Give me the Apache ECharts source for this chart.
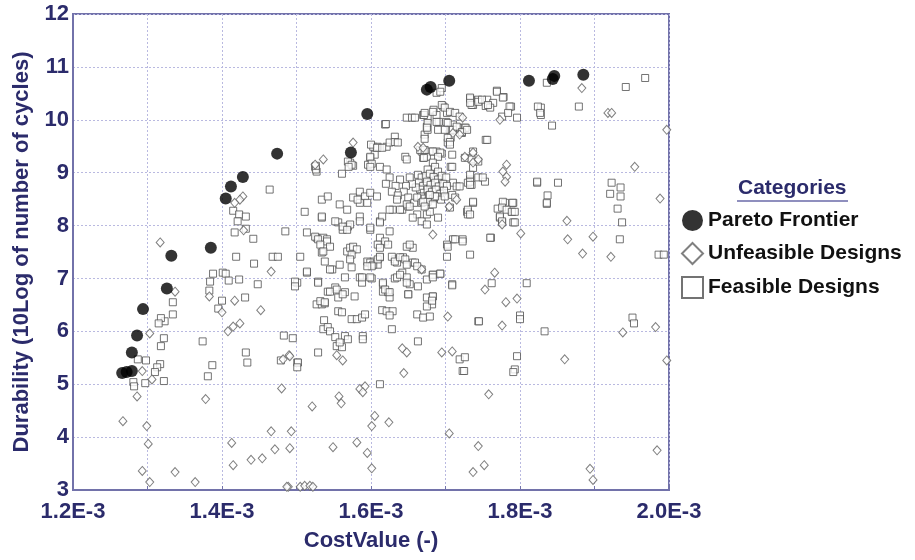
<!DOCTYPE html>
<html>
<head>
<meta charset="utf-8">
<script src="https://cdn.jsdelivr.net/npm/echarts@6/dist/echarts.min.js"></script>
<style>html,body{margin:0;padding:0;background:#fff}#c{width:915px;height:560px}</style>
</head>
<body>
<div id="c"></div>
<script>
// Cost values in units of 1E-3, durability in 10Log(cycles)
const categories = ['Pareto Frontier', 'Unfeasible Designs', 'Feasible Designs'];
const xTickValues = [1.2, 1.4, 1.6, 1.8, 2.0];
const yTickValues = [3, 4, 5, 6, 7, 8, 9, 10, 11, 12];

const paretoPoints = [
[1.266,5.21],[1.272,5.23],[1.279,5.25],[1.279,5.60],[1.286,5.92],[1.294,6.42],[1.326,6.81],[1.332,7.43],
[1.385,7.58],[1.405,8.51],[1.412,8.74],[1.428,8.92],[1.474,9.36],[1.573,9.38],[1.595,10.11],[1.675,10.57],
[1.680,10.62],[1.705,10.74],[1.812,10.74],[1.844,10.77],[1.846,10.83],[1.885,10.85]
];

const unfeasiblePoints = [
[1.428,8.55],[1.424,8.49],[1.417,8.43],[1.429,7.91],[1.317,7.68],[1.466,7.13],[1.383,6.66],[1.417,6.58],
[1.400,6.36],[1.452,6.40],[1.337,6.75],[1.303,5.96],[1.408,6.00],[1.415,6.09],[1.424,6.15],[1.293,5.25],
[1.306,5.09],[1.286,4.77],[1.267,4.30],[1.299,4.21],[1.301,3.87],[1.293,3.36],[1.303,3.15],[1.337,3.34],
[1.364,3.15],[1.378,4.72],[1.490,5.55],[1.480,4.92],[1.413,3.89],[1.415,3.47],[1.439,3.57],[1.454,3.60],
[1.466,4.11],[1.493,4.11],[1.471,3.77],[1.491,3.79],[1.489,3.06],[1.710,9.75],[1.719,9.72],[1.576,9.57],
[1.536,9.25],[1.663,9.49],[1.670,9.47],[1.726,9.30],[1.737,9.38],[1.737,9.19],[1.744,9.25],[1.705,8.36],
[1.525,9.15],[1.703,6.28],[1.482,5.47],[1.491,5.53],[1.554,5.55],[1.562,5.45],[1.642,5.68],[1.648,5.60],
[1.695,5.60],[1.709,5.62],[1.644,5.21],[1.585,4.91],[1.592,4.96],[1.589,4.85],[1.557,4.77],[1.560,4.64],
[1.521,4.58],[1.605,4.40],[1.601,4.21],[1.624,4.28],[1.549,3.81],[1.581,3.90],[1.595,3.70],[1.601,3.41],
[1.705,4.07],[1.737,3.34],[1.744,3.83],[1.487,3.06],[1.505,3.06],[1.511,3.08],[1.518,3.08],[1.522,3.06],
[1.883,10.60],[1.773,10.00],[1.918,10.13],[1.923,10.13],[1.997,9.81],[1.723,10.04],[1.782,9.15],[1.777,9.02],
[1.782,8.92],[1.780,8.83],[1.954,9.11],[1.988,8.51],[1.863,8.09],[1.864,7.74],[1.898,7.79],[1.801,7.85],
[1.884,7.47],[1.922,7.41],[1.766,7.11],[1.753,6.79],[1.781,6.55],[1.796,6.62],[1.776,6.11],[1.938,5.98],
[1.982,6.08],[1.860,5.47],[1.997,5.45],[1.758,4.81],[1.752,3.47],[1.894,3.40],[1.898,3.19],[1.984,3.75],
[1.715,8.49],[1.683,7.83],[1.776,8.02],[1.668,7.17]
];

const feasiblePoints = [
[1.464,8.68],[1.415,8.28],[1.423,8.21],[1.432,8.17],[1.421,8.08],[1.417,7.87],[1.432,7.94],[1.442,7.75],[1.485,7.89],
[1.419,7.41],[1.443,7.28],[1.468,7.41],[1.475,7.41],[1.388,7.09],[1.401,7.11],[1.405,7.09],[1.384,6.94],[1.409,6.96],
[1.423,6.98],[1.448,6.89],[1.501,6.92],[1.383,6.77],[1.400,6.58],[1.395,6.43],[1.431,6.64],[1.334,6.55],[1.334,6.32],
[1.323,6.19],[1.318,6.25],[1.315,6.15],[1.322,5.87],[1.318,5.72],[1.374,5.81],[1.298,5.45],[1.287,5.47],[1.317,5.38],
[1.313,5.32],[1.310,5.23],[1.322,5.06],[1.281,5.04],[1.282,4.96],[1.297,5.02],[1.387,5.36],[1.381,5.15],[1.432,5.60],
[1.434,5.41],[1.483,5.92],[1.495,5.87],[1.479,5.45],[1.501,5.41],
[1.688,10.51],[1.695,10.60],[1.734,10.38],[1.737,10.28],[1.648,10.04],[1.655,10.04],[1.619,9.91],[1.670,10.09],
[1.676,10.04],[1.684,10.19],[1.688,10.09],[1.697,10.25],[1.702,10.13],[1.675,9.87],[1.691,9.96],[1.701,9.96],
[1.710,9.91],[1.719,9.85],[1.726,9.85],[1.672,9.72],[1.672,9.64],[1.703,9.57],[1.707,9.66],[1.632,9.68],
[1.603,9.49],[1.609,9.49],[1.621,9.49],[1.625,9.57],[1.632,9.58],[1.636,9.57],[1.605,9.34],[1.599,9.28],
[1.572,9.19],[1.576,9.13],[1.679,9.40],[1.688,9.40],[1.695,9.36],[1.646,9.30],[1.648,9.25],[1.670,9.28],
[1.675,9.30],[1.709,9.34],[1.707,9.11],[1.525,9.11],[1.527,9.02],[1.561,8.98],[1.596,9.15],[1.612,9.11],
[1.534,8.49],[1.542,8.55],[1.511,8.26],[1.534,8.15],[1.558,8.40],[1.568,8.30],[1.556,8.06],[1.569,7.98],
[1.562,7.92],[1.585,8.64],[1.592,8.55],[1.599,8.62],[1.585,8.43],[1.595,8.43],[1.608,8.55],[1.514,7.87],
[1.527,7.77],[1.536,7.77],[1.541,7.74],[1.585,8.17],[1.599,7.92],[1.612,8.08],[1.625,7.89],[1.629,8.30],
[1.642,8.30],[1.650,8.36],[1.710,7.74],[1.723,7.74],[1.730,8.26],[1.733,8.87],[1.735,8.77],[1.737,9.09],
[1.505,7.41],[1.534,7.49],[1.538,7.32],[1.548,7.17],[1.558,7.26],[1.574,7.21],[1.568,7.51],[1.576,7.55],
[1.596,7.30],[1.603,7.32],[1.609,7.26],[1.612,7.40],[1.632,7.36],[1.635,7.30],[1.643,7.40],[1.656,7.30],
[1.668,7.17],[1.514,7.11],[1.498,6.94],[1.498,6.85],[1.529,6.94],[1.565,7.02],[1.585,7.02],[1.588,6.92],
[1.601,7.00],[1.616,6.89],[1.632,7.00],[1.642,7.11],[1.648,7.02],[1.652,6.89],[1.663,6.85],[1.683,7.07],
[1.693,7.09],[1.709,6.89],[1.542,6.75],[1.552,6.83],[1.565,6.74],[1.578,6.66],[1.556,6.64],[1.616,6.75],
[1.623,6.74],[1.625,6.64],[1.650,6.70],[1.675,6.64],[1.683,6.66],[1.682,6.51],[1.675,6.47],[1.527,6.51],
[1.534,6.51],[1.538,6.53],[1.556,6.38],[1.561,6.36],[1.574,6.23],[1.581,6.23],[1.588,6.26],[1.592,6.32],
[1.615,6.40],[1.621,6.38],[1.629,6.38],[1.625,6.30],[1.662,6.32],[1.670,6.26],[1.679,6.28],[1.744,6.19],
[1.537,6.21],[1.536,6.04],[1.542,6.08],[1.545,6.00],[1.628,6.04],[1.552,5.89],[1.565,5.91],[1.569,5.85],
[1.554,5.72],[1.561,5.70],[1.558,5.79],[1.589,5.91],[1.589,5.85],[1.529,5.60],[1.502,5.41],[1.501,5.32],
[1.663,5.81],[1.719,5.47],[1.726,5.51],[1.723,5.25],[1.612,5.00],
[1.836,10.70],[1.942,10.62],[1.968,10.79],[1.769,10.55],[1.778,10.43],[1.788,10.25],[1.796,10.04],[1.733,10.40],
[1.735,10.28],[1.744,10.38],[1.756,10.38],[1.754,10.26],[1.764,10.32],[1.760,10.23],[1.828,10.23],[1.828,10.09],
[1.879,10.25],[1.843,9.89],[1.727,9.85],[1.722,9.75],[1.754,9.62],[1.733,8.96],[1.730,8.81],[1.744,8.91],
[1.753,8.83],[1.750,8.91],[1.823,8.81],[1.851,8.81],[1.837,8.57],[1.836,8.41],[1.923,8.81],[1.935,8.72],
[1.921,8.60],[1.935,8.55],[1.931,8.32],[1.937,8.06],[1.934,7.74],[1.737,8.43],[1.729,8.26],[1.730,8.21],
[1.770,8.32],[1.780,8.43],[1.789,8.26],[1.791,8.43],[1.773,8.15],[1.791,8.06],[1.776,8.06],[1.761,7.77],
[1.733,7.45],[1.986,7.45],[1.993,7.45],[1.762,6.91],[1.809,6.91],[1.745,6.19],[1.800,6.30],[1.800,6.23],
[1.833,6.00],[1.951,6.26],[1.953,6.15],[1.725,5.25],[1.796,5.53],[1.793,5.28],[1.791,5.23],
[1.659,10.04],[1.620,9.92],[1.671,10.09],[1.676,9.94],[1.676,9.81],[1.600,9.53],[1.608,9.47],[1.615,9.47],
[1.526,9.06],[1.526,9.13],[1.569,9.21],[1.574,9.15],[1.570,9.11],[1.599,9.30],[1.601,9.17],[1.621,9.06],
[1.599,9.11],[1.668,9.40],[1.671,9.28],
[1.693,10.53],[1.672,10.13],[1.683,10.15],[1.695,10.28],[1.699,10.23],[1.706,10.15],[1.713,10.13],[1.719,10.06],
[1.675,9.85],[1.688,9.96],[1.703,9.94],[1.706,9.81],[1.710,9.81],[1.715,9.87],[1.722,9.77],[1.729,9.81],
[1.690,9.81],[1.699,9.81],[1.703,9.66],[1.706,9.58],[1.706,9.53],[1.733,10.42],[1.733,10.32],[1.744,10.34],
[1.749,10.38],[1.757,10.28],[1.769,10.53],[1.777,10.42],[1.786,10.25],[1.776,10.06],[1.784,10.13],[1.756,9.62],
[1.666,9.43],[1.672,9.43],[1.683,9.40],[1.693,9.38],[1.690,9.30],[1.726,9.28],[1.737,9.40],[1.735,9.25],
[1.744,9.21],[1.683,9.19],[1.686,9.11],[1.676,9.06],[1.690,9.02],[1.709,9.11],[1.733,8.83],[1.733,8.77],
[1.710,8.81],[1.715,8.74],[1.719,8.74],[1.823,8.83],[1.824,10.25],[1.827,10.13],[1.709,8.58],[1.713,8.53],
[1.663,8.96],[1.668,8.91],[1.674,8.94],[1.679,8.98],[1.684,8.92],[1.690,8.87],[1.695,8.94],[1.701,8.91],
[1.664,8.81],[1.670,8.75],[1.675,8.83],[1.680,8.77],[1.686,8.81],[1.691,8.74],[1.697,8.79],[1.702,8.75],
[1.666,8.68],[1.671,8.62],[1.676,8.68],[1.682,8.64],[1.687,8.68],[1.693,8.60],[1.698,8.66],[1.667,8.55],
[1.672,8.51],[1.678,8.57],[1.683,8.51],[1.688,8.55],[1.694,8.49],[1.699,8.55],[1.660,8.72],[1.655,8.79],
[1.652,8.91],[1.647,8.75],[1.644,8.64],[1.639,8.87],[1.633,8.75],[1.628,8.64],[1.636,8.57],[1.650,8.53],
[1.658,8.43],[1.625,8.91],[1.620,8.79],
[1.576,8.53],[1.582,8.49],[1.635,8.49],[1.648,8.40],[1.662,8.53],[1.668,8.43],[1.676,8.45],[1.534,8.17],
[1.552,8.08],[1.562,7.98],[1.572,8.02],[1.568,7.92],[1.585,8.08],[1.599,7.96],[1.615,8.17],[1.612,8.06],
[1.625,8.30],[1.639,8.30],[1.652,8.36],[1.662,8.21],[1.656,8.15],[1.668,8.08],[1.675,8.21],[1.679,8.26],
[1.525,7.79],[1.529,7.74],[1.541,7.70],[1.545,7.60],[1.532,7.64],[1.536,7.51],[1.545,7.17],[1.572,7.58],
[1.576,7.60],[1.581,7.55],[1.574,7.45],[1.572,7.36],[1.612,7.77],[1.619,7.70],[1.623,7.64],[1.609,7.64],
[1.612,7.58],[1.595,7.32],[1.599,7.30],[1.603,7.26],[1.609,7.36],[1.612,7.41],[1.601,7.23],[1.595,7.23],
[1.628,7.41],[1.632,7.32],[1.639,7.40],[1.646,7.36],[1.648,7.26],[1.659,7.30],[1.662,7.23],[1.656,7.58],
[1.648,7.60],[1.652,7.64],[1.514,7.13],[1.529,6.92],[1.545,6.75],[1.554,6.79],[1.562,6.70],[1.588,7.02],
[1.599,7.02],[1.616,6.92],[1.619,6.79],[1.625,6.74],[1.635,7.02],[1.639,7.07],[1.648,6.92],[1.675,6.98],
[1.650,6.70],[1.532,6.57],[1.538,6.55],
[1.670,8.45],[1.672,8.36],[1.683,8.40],[1.686,8.55],[1.679,8.58],[1.706,8.34],[1.730,8.30],[1.733,8.21],
[1.737,8.45],[1.690,8.15],[1.675,8.02],[1.777,8.45],[1.790,8.43],[1.776,8.34],[1.782,8.30],[1.789,8.26],
[1.793,8.26],[1.773,8.17],[1.776,8.08],[1.793,8.06],[1.836,8.43],[1.760,7.77],[1.713,7.74],[1.723,7.70],
[1.702,7.64],[1.703,7.60],[1.702,7.41],[1.693,7.09],[1.683,7.07],[1.683,7.02],[1.709,6.87],[1.683,6.66],
[1.682,6.58]
];

const navy = '#2b2b6b';
const fontFam = '"Liberation Sans", Arial, sans-serif';
const chart = echarts.init(document.getElementById('c'), null, {renderer: 'canvas'});
chart.setOption({
  backgroundColor: '#ffffff',
  animation: false,
  grid: {left: 73, right: 246, top: 14, bottom: 70, containLabel: false, outerBoundsMode: 'none',
    show: true, borderColor: '#7272aa', borderWidth: 2, backgroundColor: 'transparent'},
  xAxis: {
    type: 'value', min: 1.2, max: 2.0, interval: 0.1,
    name: 'CostValue (-)', nameLocation: 'middle', nameGap: 40,
    nameTextStyle: {color: navy, fontSize: 22, fontWeight: 'bold', fontFamily: fontFam},
    axisLine: {show: true, lineStyle: {color: '#7272aa', width: 2}},
    axisTick: {show: true, inside: true, length: 4, lineStyle: {color: '#7272aa'}},
    axisLabel: {
      color: navy, fontSize: 22, fontWeight: 'bold', fontFamily: fontFam, margin: 11,
      formatter: v => xTickValues.some(t => Math.abs(t - v) < 1e-6) ? v.toFixed(1) + 'E-3' : ''
    },
    splitLine: {show: true, lineStyle: {color: '#b9b9e0', type: [2, 2], width: 1}}
  },
  yAxis: {
    type: 'value', min: 3, max: 12, interval: 1,
    name: 'Durability (10Log of number of cycles)', nameLocation: 'middle', nameGap: 40,
    nameTextStyle: {color: navy, fontSize: 22, fontWeight: 'bold', fontFamily: fontFam},
    axisLine: {show: true, lineStyle: {color: '#7272aa', width: 2}},
    axisTick: {show: false},
    axisLabel: {color: navy, fontSize: 22, fontWeight: 'bold', fontFamily: fontFam, margin: 4,
      formatter: v => yTickValues.includes(v) ? String(v) : ''},
    splitLine: {show: true, lineStyle: {color: '#b9b9e0', type: [2, 2], width: 1}}
  },
  legend: {
    orient: 'vertical', left: 676, top: 205, itemGap: 11, itemWidth: 21, itemHeight: 21,
    textStyle: {color: '#111', fontSize: 21, fontWeight: 'bold', fontFamily: fontFam},
    data: [
      {name: categories[0], icon: 'circle'},
      {name: categories[1], icon: 'diamond'},
      {name: categories[2], icon: 'rect'}
    ]
  },
  graphic: [
    {type: 'text', left: 738, top: 178, style: {text: 'Categories', fill: navy, font: 'bold 21px ' + fontFam}},
    {type: 'line', shape: {x1: 737, y1: 201, x2: 848, y2: 201}, style: {stroke: '#6a6aa8', lineWidth: 1.5}}
  ],
  series: [
    {name: categories[2], type: 'scatter', data: feasiblePoints, symbol: 'rect', symbolSize: 7, z: 2,
      itemStyle: {color: '#ffffff', borderColor: '#505050', borderWidth: 1}},
    {name: categories[1], type: 'scatter', data: unfeasiblePoints, symbol: 'diamond', symbolSize: [8, 9], z: 3,
      itemStyle: {color: '#ffffff', borderColor: '#606060', borderWidth: 1}},
    {name: categories[0], type: 'scatter', data: paretoPoints, symbol: 'circle', symbolSize: 12, z: 4,
      itemStyle: {color: '#000000', borderWidth: 0}}
  ]
});
</script>
</body>
</html>
